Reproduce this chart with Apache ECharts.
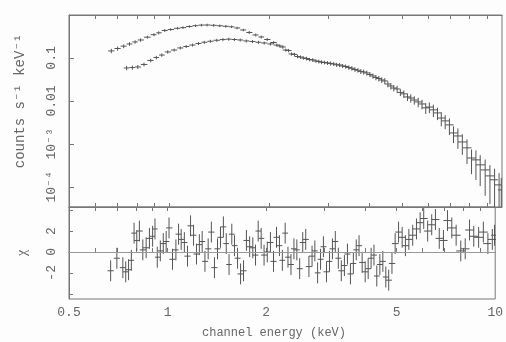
<!DOCTYPE html>
<html>
<head>
<meta charset="utf-8">
<script src="https://cdn.jsdelivr.net/npm/echarts@6/dist/echarts.min.js"></script>
<style>
html,body{margin:0;padding:0;background:#fdfdfd;}
#chart{width:506px;height:342px;}
</style>
</head>
<body>
<div id="chart"></div>
<script>
// ---- data ----
const energyA = [0.67,0.70,0.73,0.76,0.79,0.82,0.86,0.90,0.93,0.97,
  1.01,1.06,1.10,1.15,1.20,1.25,1.30,1.36,1.42,1.48,
  1.54,1.60,1.67,1.74,1.82,1.89,1.97,2.06,2.15,2.24,
  2.33,2.43,2.53,2.64,2.76,2.87,2.99,3.12,3.25,3.39,
  3.54,3.69,3.84,4.01,4.18,4.35,4.54,4.73,
  4.95,5.2,5.45,5.75,6.05,6.4,6.75,7.15,7.6,8.1,8.6,9.2,9.8];
const countsA = [0.146,0.166,0.188,0.212,0.236,0.262,0.305,0.348,0.385,0.436,
  0.460,0.491,0.509,0.540,0.564,0.582,0.585,0.576,0.561,0.546,
  0.532,0.499,0.448,0.392,0.343,0.308,0.269,0.229,0.190,0.153,
  0.124,0.108,0.100,0.092,0.085,0.080,0.0765,0.0725,0.0687,0.0634,
  0.0576,0.0518,0.0472,0.0413,0.0352,0.0308,0.0248,0.0200,
  0.0158,0.0124,0.0105,0.0085,0.0072,0.00526,0.00343,0.0018,0.00111,0.00047,0.000325,0.00018,0.000111];
const errA = [0.12,0.11,0.10,0.10,0.09,0.09,0.08,0.08,0.08,0.08,
  0.07,0.07,0.07,0.07,0.07,0.07,0.07,0.07,0.07,0.07,
  0.07,0.07,0.07,0.08,0.08,0.08,0.08,0.08,0.08,0.08,
  0.09,0.09,0.09,0.09,0.09,0.10,0.10,0.10,0.11,0.11,
  0.12,0.12,0.13,0.13,0.14,0.15,0.16,0.17,
  0.18,0.20,0.22,0.25,0.28,0.32,0.36,0.42,0.5,0.58,0.68,0.78,0.88];
const residA = [-1.8,-0.6,-1.5,-1.7,1.8,2.0,0.4,1.5,-0.5,0.8,
  2.3,0.2,1.2,-0.4,1.6,0.7,-0.9,1.9,0.3,2.4,
  -1.2,0.6,-2.1,1.1,0.4,2.0,-0.3,0.9,1.4,-0.8,
  -0.5,0.3,-1.6,1.2,-0.4,-2.0,0.5,-0.9,1.0,-1.8,
  -0.2,-1.1,0.6,-1.9,-0.6,-2.3,-0.9,-2.7,
  0.8,1.4,1.2,2.2,3.2,2.6,1.3,3.0,1.6,0.3,1.5,1.9,1.2];

const energyB = [0.745,0.775,0.805,0.84,0.88,0.915,0.95,0.99,1.035,1.08,
  1.125,1.175,1.225,1.275,1.33,1.39,1.45,1.51,1.57,1.635,
  1.705,1.78,1.855,1.93,2.015,2.105,2.195,2.285,2.38,2.48,
  2.585,2.70,2.815,2.93,3.055,3.185,3.32,3.465,3.615,3.765,
  3.925,4.095,4.265,4.445,4.635,4.84,5.07,5.32,5.6,5.9,
  6.22,6.57,6.95,7.37,7.85,8.35,8.9,9.5,9.95];
const countsB = [0.0585,0.0598,0.0617,0.0706,0.0875,0.1027,0.117,0.138,0.153,0.171,
  0.185,0.200,0.217,0.232,0.245,0.258,0.268,0.274,0.269,0.262,
  0.249,0.242,0.232,0.223,0.212,0.200,0.180,0.149,0.121,0.105,
  0.097,0.090,0.083,0.0785,0.0745,0.0695,0.0652,0.0601,0.0540,0.0486,
  0.0448,0.0381,0.0333,0.0292,0.0223,0.0190,0.0146,0.0117,0.0095,0.0069,
  0.0062,0.0040,0.00277,0.00153,0.00081,0.000425,0.000248,0.000146,0.000085];
const errB = [0.12,0.11,0.11,0.10,0.10,0.09,0.09,0.09,0.08,0.08,
  0.08,0.08,0.08,0.08,0.08,0.08,0.08,0.08,0.08,0.08,
  0.08,0.08,0.08,0.08,0.08,0.08,0.09,0.09,0.09,0.09,
  0.10,0.10,0.10,0.10,0.11,0.11,0.11,0.12,0.12,0.13,
  0.13,0.14,0.15,0.16,0.17,0.18,0.20,0.22,0.25,0.28,
  0.32,0.36,0.42,0.5,0.58,0.66,0.75,0.82,0.9];
const residB = [-1.9,-0.8,1.1,0.2,1.3,2.2,0.1,1.0,-0.7,1.7,
  0.9,2.5,-0.2,1.0,0.3,-1.5,1.4,0.8,1.7,-0.6,
  -1.8,0.5,-0.3,1.3,0.0,-0.9,0.6,1.8,-1.2,0.2,
  0.9,-1.4,0.1,-0.7,-1.9,0.3,-0.6,-1.3,-2.1,0.2,
  -1.0,-1.6,-0.3,-1.2,-2.4,-1.1,1.9,0.6,1.6,2.8,
  2.0,3.1,1.1,2.3,0.1,2.1,1.4,0.8,1.6];

const xTickLabels = [0.5, 1, 2, 5, 10];
const xMinorTicks = [0.6,0.7,0.8,0.9,1,2,3,4,5,6,7,8,9];
const yTopTicks = [1e-4, 1e-3, 0.01, 0.1];
const yTopLabels = {'-1':'0.1','-2':'0.01','-3':'10\u207B\u00B3','-4':'10\u207B\u2074'};
const yBotTicks = [-4, -2, 0, 2, 4];
const yBotLabels = [-2, 0, 2];

// ---- build ----
function edges(e, i) {
  const lo = i > 0 ? Math.sqrt(e[i-1]*e[i]) : e[0]*Math.sqrt(e[0]/e[1]);
  const n = e.length;
  const hi = i < n-1 ? Math.sqrt(e[i]*e[i+1]) : e[n-1]*Math.sqrt(e[n-1]/e[n-2]);
  return [lo, hi];
}
function specData(e, c, err) {
  return e.map((x, i) => { const [lo, hi] = edges(e, i); return [x, c[i], lo, hi, c[i]*(1-err[i]), c[i]*(1+err[i])]; });
}
function residData(e, r) {
  return e.map((x, i) => { const [lo, hi] = edges(e, i); return [x, r[i], lo, hi, r[i]-1, r[i]+1]; });
}
const INK = '#555';
function crossRender(params, api) {
  const e = api.value(0), v = api.value(1);
  const a = api.coord([api.value(2), v]), b = api.coord([api.value(3), v]);
  const c = api.coord([e, api.value(4)]), d = api.coord([e, api.value(5)]);
  return { type: 'group', children: [
    { type: 'line', shape: { x1: a[0], y1: a[1], x2: b[0], y2: b[1] }, style: { stroke: INK, lineWidth: 1 } },
    { type: 'line', shape: { x1: c[0], y1: c[1], x2: d[0], y2: d[1] }, style: { stroke: INK, lineWidth: 1 } }
  ]};
}

const FONT = "'Liberation Mono', 'DejaVu Sans Mono', monospace";
const AX = '#777', TXT = '#666';
const L = 69, W = 433;
function xAx(grid, pos, labels) {
  return {
    type: 'log', gridIndex: grid, position: pos, min: 0.5, max: 10, logBase: 10,
    axisLine: { show: true, lineStyle: { color: AX, width: 1 } },
    axisTick: { show: true, inside: true, length: 4, customValues: xMinorTicks, lineStyle: { color: AX } },
    axisLabel: labels ? { show: true, customValues: xTickLabels, margin: 7, color: TXT, fontFamily: FONT, fontSize: 13,
      formatter: v => String(+Number(v).toPrecision(3)) } : { show: false },
    splitLine: { show: false }
  };
}

const chart = echarts.init(document.getElementById('chart'), null, { renderer: 'canvas' });
chart.setOption({
  backgroundColor: '#fdfdfd',
  animation: false,
  grid: [
    { left: L, top: 15, width: W, height: 192, show: true, borderColor: AX, borderWidth: 1, backgroundColor: 'transparent' },
    { left: L, top: 207, width: W, height: 92, show: true, borderColor: AX, borderWidth: 1, backgroundColor: 'transparent' }
  ],
  xAxis: [ xAx(0, 'bottom', false), xAx(0, 'top', false), xAx(1, 'bottom', true), xAx(1, 'top', false) ],
  yAxis: [
    { type: 'log', gridIndex: 0, min: 3.4e-5, max: 1, logBase: 10,
      axisLine: { show: true, lineStyle: { color: AX } },
      axisTick: { show: true, inside: true, length: 5, customValues: yTopTicks, lineStyle: { color: AX } },
      axisLabel: { show: true, customValues: yTopTicks, rotate: 90, margin: 11, color: TXT, fontFamily: FONT, fontSize: 13,
        formatter: v => yTopLabels[String(Math.round(Math.log10(v)))] || '' },
      splitLine: { show: false } },
    { type: 'value', gridIndex: 1, min: -4.5, max: 4.3,
      axisLine: { show: true, lineStyle: { color: AX } },
      axisTick: { show: true, inside: true, length: 4, customValues: yBotTicks, lineStyle: { color: AX } },
      axisLabel: { show: true, customValues: yBotLabels, rotate: 90, margin: 11, color: TXT, fontFamily: FONT, fontSize: 13,
        formatter: v => String(v) },
      splitLine: { show: false } }
  ],
  series: [
    { type: 'custom', xAxisIndex: 0, yAxisIndex: 0, clip: true, renderItem: crossRender, data: specData(energyA, countsA, errA) },
    { type: 'custom', xAxisIndex: 0, yAxisIndex: 0, clip: true, renderItem: crossRender, data: specData(energyB, countsB, errB) },
    { type: 'custom', xAxisIndex: 2, yAxisIndex: 1, clip: true, renderItem: crossRender, data: residData(energyA, residA),
      markLine: { silent: true, symbol: 'none', label: { show: false }, lineStyle: { color: '#999', type: 'solid', width: 1 }, data: [{ yAxis: 0 }] } },
    { type: 'custom', xAxisIndex: 2, yAxisIndex: 1, clip: true, renderItem: crossRender, data: residData(energyB, residB) }
  ],
  graphic: [
    { type: 'text', x: 20, y: 101, rotation: Math.PI/2,
      style: { text: 'counts s\u207B\u00B9 keV\u207B\u00B9', font: "14px 'Liberation Mono', 'DejaVu Sans Mono', monospace", fill: TXT, align: 'center', verticalAlign: 'middle' } },
    { type: 'text', x: 22, y: 253, rotation: Math.PI/2,
      style: { text: '\u03C7', font: "14px 'Liberation Serif', 'DejaVu Serif', serif", fill: TXT, align: 'center', verticalAlign: 'middle' } },
    { type: 'text', x: 274, y: 333,
      style: { text: 'channel energy (keV)', font: "12px 'Liberation Mono', 'DejaVu Sans Mono', monospace", fill: TXT, align: 'center', verticalAlign: 'middle' } }
  ]
});
</script>
</body>
</html>
